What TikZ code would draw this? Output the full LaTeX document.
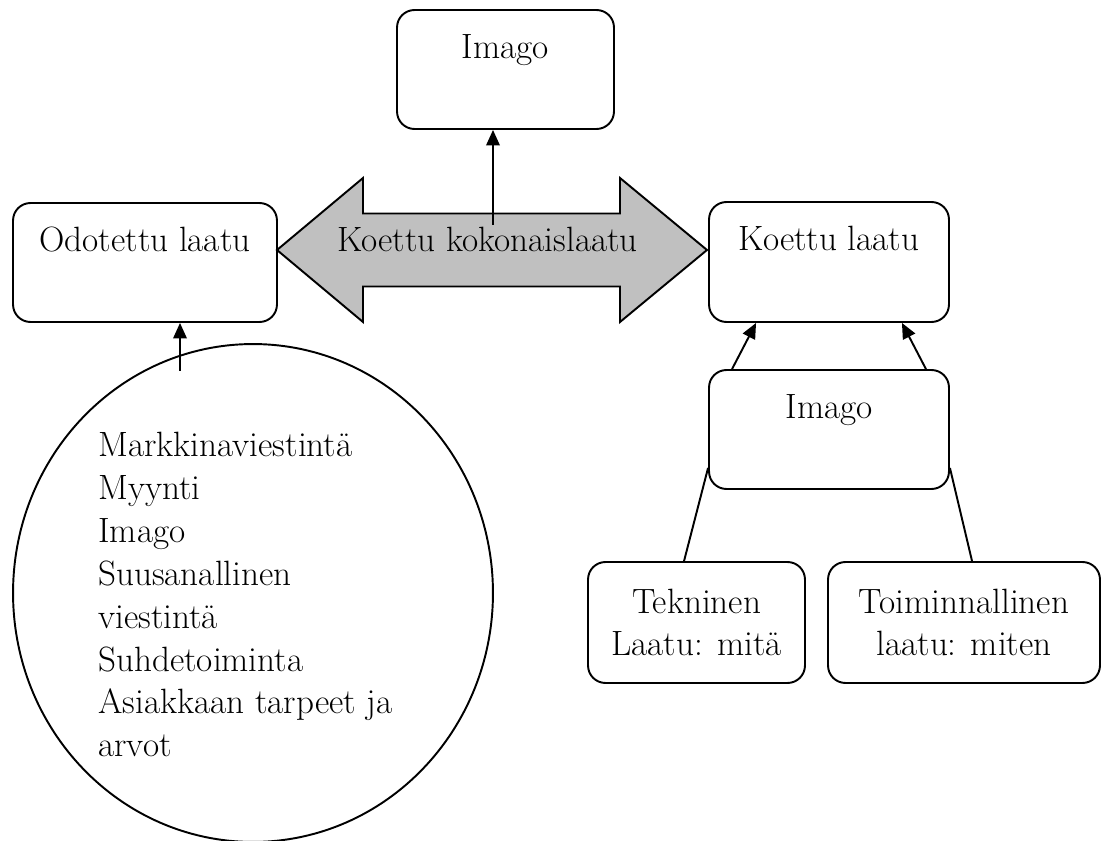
\documentclass[tikz,border=0pt]{standalone}
\usetikzlibrary{shapes.geometric,arrows.meta}
\definecolor{harmaa}{RGB}{192,192,192}

\begin{document}
\begin{tikzpicture}[x=0.02cm,y=-0.02cm,
	every node/.style={font=\fontsize{20}{23.4}\selectfont},
	viiva/.style={line width=1.1pt},
	laatikko/.style={viiva,draw,rounded corners=0.35cm,inner sep=0pt,align=center},
	ylalaatikko/.style={laatikko,text height=0.5cm,text depth=0.94cm},
	nuoli/.style={viiva,-{Triangle[length=0.31cm,width=0.27cm]}}]
	\useasboundingbox (0,0) rectangle (1103,841);
	\draw[viiva,fill=harmaa] (277,250) -- (363,178) -- (363,213.5) -- (620,213.5) -- (620,178) -- (707,250)
		-- (620,322) -- (620,286.5) -- (363,286.5) -- (363,322) -- cycle;
	\node[anchor=base] (kokonais) at (487.5,252) {Koettu kokonaislaatu};
	\node[ylalaatikko,minimum width=4.34cm,minimum height=2.38cm] (imago1) at (505.5,69.5) {Imago};
	\node[ylalaatikko,minimum width=5.28cm,minimum height=2.38cm] (odotettu) at (145,262.5) {Odotettu laatu};
	\node[ylalaatikko,minimum width=4.8cm,minimum height=2.4cm] (koettu) at (829,262) {Koettu laatu};
	\node[ylalaatikko,minimum width=4.8cm,minimum height=2.38cm] (imago2) at (829,429.5) {Imago};
	\node[laatikko,minimum width=4.34cm,minimum height=2.42cm] (tekninen) at (696.5,622.5) {Tekninen\\Laatu: mitä};
	\node[laatikko,minimum width=5.44cm,minimum height=2.42cm] (toiminnallinen) at (964,622.5) {Toiminnallinen\\laatu: miten};
	\node[viiva,draw,ellipse,inner sep=0pt,minimum width=9.6cm,minimum height=9.96cm] (odotukset) at (253,593) {};
	\node[anchor=north west,inner sep=0pt,align=left,font=\fontsize{20}{24.4}\selectfont] (tekijat) at (98,432)
		{Markkinaviestintä\\Myynti\\Imago\\Suusanallinen\\viestintä\\Suhdetoiminta\\Asiakkaan tarpeet ja\\arvot};
	\coordinate (kokyla) at (493,225);
	\coordinate (odotusyla) at (180,371);
	\draw[nuoli] (kokyla) -- (kokyla |- imago1.south);
	\draw[nuoli] (odotusyla) -- (odotusyla |- odotettu.south);
	\draw[nuoli] ([xshift=0.48cm]imago2.north west) -- ([xshift=0.96cm]koettu.south west);
	\draw[nuoli] ([xshift=-0.48cm]imago2.north east) -- ([xshift=-0.96cm]koettu.south east);
	\draw[viiva] ([yshift=0.44cm]imago2.south west) -- ([xshift=1.94cm]tekninen.north west);
	\draw[viiva] ([yshift=0.44cm]imago2.south east) -- ([xshift=2.9cm]toiminnallinen.north west);
\end{tikzpicture}
\end{document}
